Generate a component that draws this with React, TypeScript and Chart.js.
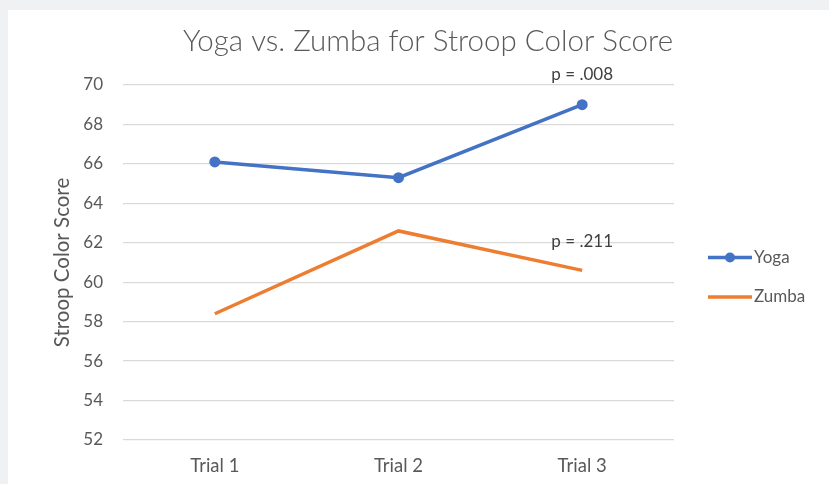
import React, { useEffect, useRef } from "react";
import { Chart, registerables } from "chart.js";

Chart.register(...registerables);

const chartTitle = "Yoga vs. Zumba for Stroop Color Score";
const yAxisTitle = "Stroop Color Score";
const categories = ["Trial 1", "Trial 2", "Trial 3"];
const seriesNames = ["Yoga", "Zumba"];
const yogaScores = [66.1, 65.3, 69.0];
const zumbaScores = [58.4, 62.6, 60.6];
const yMin = 52;
const yMax = 70;
const yStep = 2;
const pLabels = ["p = .008", "p = .211"];
const pLabelCategory = [2, 2];
const pLabelValues = [70.5, 62.0];

const BLUE = "#4472C4";
const ORANGE = "#ED7D31";
const TEXT = "#595959";
const FONT = "Lato, 'Open Sans', sans-serif";

const overlayPlugin = {
  id: "overlay",
  afterDraw(chart: any) {
    const ctx = chart.ctx as CanvasRenderingContext2D;
    const xs = chart.scales.x;
    const ys = chart.scales.y;
    const area = chart.chartArea;
    ctx.save();
    // title
    ctx.fillStyle = TEXT;
    ctx.font = `300 29.5px ${FONT}`;
    ctx.textAlign = "center";
    ctx.textBaseline = "middle";
    ctx.fillText(chartTitle, 420, 31);

    // p-value annotations
    ctx.fillStyle = "#404040";
    ctx.font = `17px ${FONT}`;
    pLabels.forEach((t, i) => {
      const x = xs.getPixelForValue(pLabelCategory[i]);
      const y = ys.getPixelForValue(pLabelValues[i]);
      ctx.fillText(t, x, y - 1);
    });

    // legend
    const colors = [BLUE, ORANGE];
    const lx0 = area.right + 34;
    const lx1 = lx0 + 44;
    const ly = [ys.getPixelForValue(61.25), ys.getPixelForValue(59.25)];
    seriesNames.forEach((name, i) => {
      const y = ly[i];
      ctx.strokeStyle = colors[i];
      ctx.lineWidth = 3.5;
      ctx.lineCap = "butt";
      ctx.beginPath();
      ctx.moveTo(lx0, y);
      ctx.lineTo(lx1, y);
      ctx.stroke();
      if (i === 0) {
        ctx.fillStyle = colors[i];
        ctx.beginPath();
        ctx.arc((lx0 + lx1) / 2, y, 5, 0, Math.PI * 2);
        ctx.fill();
      }
      ctx.fillStyle = TEXT;
      ctx.font = `17px ${FONT}`;
      ctx.textAlign = "left";
      ctx.fillText(name, lx1 + 2, y);
    });
    ctx.restore();
  },
};

export default function App() {
  const ref = useRef<HTMLCanvasElement>(null);
  useEffect(() => {
    if (!ref.current) return;
    const chart = new Chart(ref.current, {
      type: "line",
      data: {
        labels: categories,
        datasets: [
          {
            label: seriesNames[0],
            data: yogaScores,
            borderColor: BLUE,
            backgroundColor: BLUE,
            borderWidth: 3.5,
            pointRadius: 5.5,
            pointHoverRadius: 5.5,
            pointBackgroundColor: BLUE,
            pointBorderWidth: 0,
            tension: 0,
          },
          {
            label: seriesNames[1],
            data: zumbaScores,
            borderColor: ORANGE,
            backgroundColor: ORANGE,
            borderWidth: 3.5,
            pointRadius: 0,
            pointHoverRadius: 0,
            tension: 0,
          },
        ],
      },
      options: {
        responsive: false,
        animation: false,
        devicePixelRatio: 1,
        layout: { padding: { left: 0, top: 75, right: 155, bottom: 0 } },
        plugins: {
          legend: { display: false },
          title: { display: false },
          tooltip: { enabled: false },
        },
        scales: {
          x: {
            offset: true,
            grid: { display: false, drawTicks: false },
            border: { display: false },
            ticks: { color: TEXT, font: { family: FONT, size: 18.5 }, padding: 15 },
            afterFit: (s: any) => {
              s.height = 44;
            },
          },
          y: {
            min: yMin,
            max: yMax,
            grid: { color: "#d9d9d9", lineWidth: 1.3, drawTicks: false },
            border: { display: false },
            ticks: { stepSize: yStep, color: TEXT, font: { family: FONT, size: 17 }, padding: 20 },
            title: {
              display: true,
              text: yAxisTitle,
              color: TEXT,
              font: { family: FONT, size: 20.5 },
              padding: { top: 42, bottom: 0 },
            },
            afterFit: (s: any) => {
              s.width = 115;
            },
          },
        },
      },
      plugins: [overlayPlugin],
    });
    return () => chart.destroy();
  }, []);
  return (
    <div
      style={{
        position: "fixed",
        left: 0,
        top: 0,
        width: 829,
        height: 484,
        background: "#f0f1f3",
        overflow: "hidden",
      }}
    >
      <canvas
        ref={ref}
        width={821}
        height={474}
        style={{ position: "absolute", left: 8, top: 10, width: 821, height: 474, background: "#ffffff" }}
      />
    </div>
  );
}
